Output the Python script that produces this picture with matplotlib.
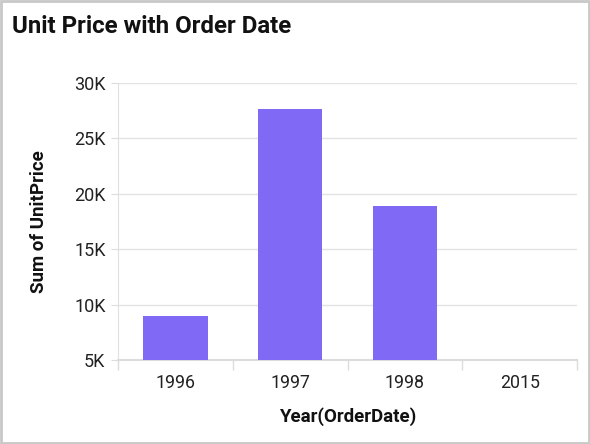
import numpy as np
import matplotlib.pyplot as plt
from matplotlib.patches import Rectangle

years = ["1996", "1997", "1998", "2015"]
unit_price = [8950, 27700, 18900, 300]
yticks = [5000, 10000, 15000, 20000, 25000, 30000]
ytick_labels = ["5K", "10K", "15K", "20K", "25K", "30K"]

plt.rcParams['font.family'] = ['Roboto', 'DejaVu Sans']

fig = plt.figure(figsize=(5.9, 4.44), dpi=100)
ax = fig.add_axes([0.2, 0.189, 0.778, 0.624])

x = np.arange(len(years))
ax.bar(x, unit_price, width=0.56, color="#806af5", zorder=3)

ax.set_ylim(5000, 30000)
ax.set_xlim(-0.5, len(years) - 0.5)
ax.set_yticks(yticks)
ax.set_yticklabels(ytick_labels)
ax.set_xticks(x)
ax.set_xticklabels(years)
# ticks sit on the category borders
ax.set_xticks(np.arange(len(years) + 1) - 0.5, minor=True)
ax.tick_params(axis="x", which="major", length=0, pad=10, labelsize=12.8, colors="#222222")
ax.tick_params(axis="x", which="minor", length=7, color="#dcdcdc", width=1)
ax.tick_params(axis="y", length=5, color="#dcdcdc", labelsize=13, labelcolor="#222222", pad=4)

ax.grid(axis="y", color="#e3e3e3", linewidth=1, zorder=0)
for s in ["top", "right"]:
    ax.spines[s].set_visible(False)
ax.spines["left"].set_color("#e0e0e0")
ax.spines["bottom"].set_color("#dcdcdc")
ax.spines["bottom"].set_linewidth(1.5)

ax.set_xlabel("Year(OrderDate)", fontsize=13.5, fontweight="bold", labelpad=11, color="#111111")
ax.set_ylabel("Sum of UnitPrice", fontsize=13.5, fontweight="bold", labelpad=19, color="#111111")

fig.text(0.02, 0.94, "Unit Price with Order Date", fontsize=17.3, fontweight="bold",
         va="center", ha="left", color="#111111")

fig.add_artist(Rectangle((0.002, 0.002), 0.996, 0.996, transform=fig.transFigure,
                         fill=False, edgecolor="#c8c8c8", linewidth=2))

fig.savefig("out.png", dpi=100)
